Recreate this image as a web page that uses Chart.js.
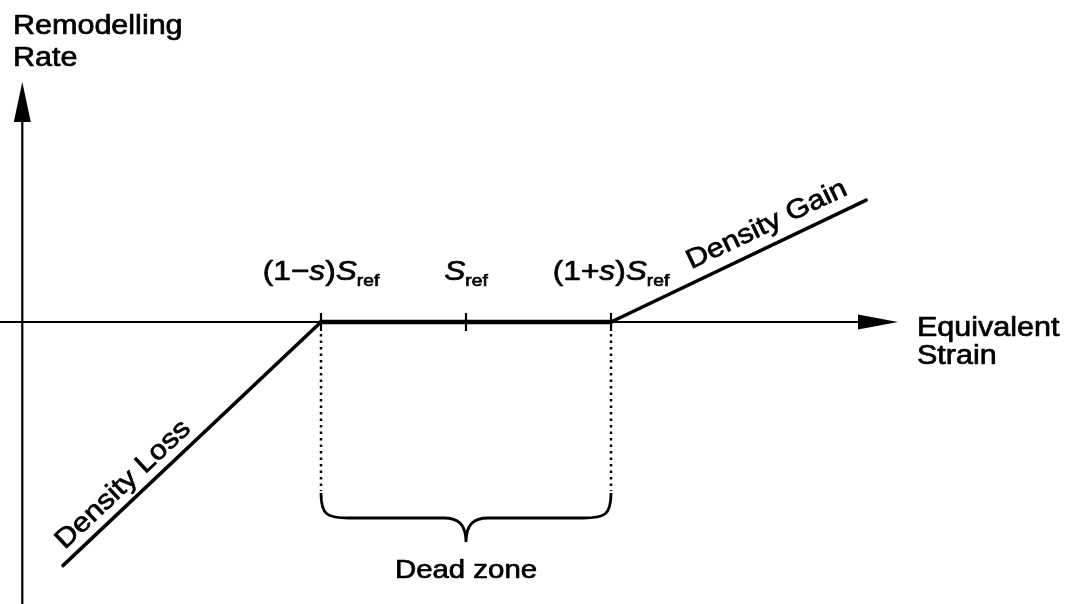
<!DOCTYPE html>
<html>
<head>
<meta charset="utf-8">
<script src="https://cdn.jsdelivr.net/npm/chart.js@4/dist/chart.umd.min.js"></script>
<style>
  html, body { margin: 0; padding: 0; background: #fff; }
  #wrap { width: 1065px; height: 604px; }
</style>
</head>
<body>
<div id="wrap"><canvas id="c" width="1065" height="604"></canvas></div>
<script>
// ---- data (strain in units of S_ref, s = 0.5) ----
const strain = [-0.39, 0.5, 1.5, 2.38];          // curve breakpoints
const rate   = [-0.84, 0, 0, 0.42];              // remodelling rate at breakpoints
const tickValues = [0.5, 1, 1.5];                // (1-s)Sref, Sref, (1+s)Sref
const tickLabels = ['(1−s)S_ref', 'S_ref', '(1+s)S_ref'];
const segmentLabels = ['Density Loss', 'Density Gain'];
const axisTitlesY = ['Remodelling', 'Rate'];
const axisTitlesX = ['Equivalent', 'Strain'];
const deadZoneLabel = 'Dead zone';
const yAxisAt = -0.53;                           // strain value where the rate axis sits

const FONT = '"Liberation Sans", Arial, Helvetica, sans-serif';
const SX = 1.13; // horizontal stretch of the lettering in the reference

function drawStretched(ctx, text, x, y, size, opts) {
  opts = opts || {};
  ctx.save();
  ctx.font = (opts.italic ? 'italic ' : '') + size + 'px ' + FONT;
  ctx.textBaseline = 'alphabetic';
  ctx.textAlign = 'left';
  const w = ctx.measureText(text).width * SX;
  let x0 = x;
  if (opts.align === 'center') x0 = x - w / 2;
  else if (opts.align === 'right') x0 = x - w;
  ctx.translate(x0, y);
  ctx.scale(SX, 1);
  ctx.fillStyle = '#000';
  ctx.strokeStyle = '#000';
  ctx.lineWidth = 0.7;
  ctx.lineJoin = 'round';
  ctx.fillText(text, 0, 0);
  ctx.strokeText(text, 0, 0);
  ctx.restore();
  return w;
}

// parse "(1−s)S_ref" into runs: italic s/S, subscript after "_"
function parseLabel(lbl) {
  const [main, sub] = lbl.split('_');
  const runs = [];
  for (const ch of main) {
    const it = (ch === 's' || ch === 'S');
    const last = runs[runs.length - 1];
    if (last && last.italic === it && !last.sub) last.t += ch;
    else runs.push({ t: ch, italic: it, sub: false });
  }
  if (sub) runs.push({ t: sub, italic: false, sub: true });
  return runs;
}

function measureRuns(ctx, runs, size, subSize) {
  let w = 0;
  for (const r of runs) {
    ctx.font = (r.italic ? 'italic ' : '') + (r.sub ? subSize : size) + 'px ' + FONT;
    w += ctx.measureText(r.t).width * SX;
  }
  return w;
}

function drawRuns(ctx, runs, cx, y, size, subSize) {
  const total = measureRuns(ctx, runs, size, subSize);
  let x = cx - total / 2;
  for (const r of runs) {
    x += drawStretched(ctx, r.t, x, r.sub ? y + 6 : y, r.sub ? subSize : size, { italic: r.italic });
  }
}

const diagramPlugin = {
  id: 'diagram',
  beforeDatasetsDraw(chart) {
    const ctx = chart.ctx;
    const xs = chart.scales.x, ys = chart.scales.y;
    const y0 = ys.getPixelForValue(0);
    const xAx = xs.getPixelForValue(yAxisAt);
    ctx.save();
    ctx.strokeStyle = '#000';
    ctx.fillStyle = '#000';
    ctx.lineWidth = 2.2;
    // horizontal axis
    const xTip = 898;
    ctx.beginPath();
    ctx.moveTo(0, y0);
    ctx.lineTo(xTip - 20, y0);
    ctx.stroke();
    ctx.beginPath();
    ctx.moveTo(xTip, y0);
    ctx.lineTo(xTip - 40, y0 - 7.5);
    ctx.lineTo(xTip - 40, y0 + 7.5);
    ctx.closePath();
    ctx.fill();
    // vertical axis
    const yTip = 82;
    ctx.beginPath();
    ctx.moveTo(xAx, chart.height);
    ctx.lineTo(xAx, yTip + 20);
    ctx.stroke();
    ctx.beginPath();
    ctx.moveTo(xAx, yTip);
    ctx.lineTo(xAx - 8.5, yTip + 40);
    ctx.lineTo(xAx + 8.5, yTip + 40);
    ctx.closePath();
    ctx.fill();
    // ticks
    ctx.lineWidth = 2.2;
    for (const v of tickValues) {
      const px = xs.getPixelForValue(v);
      ctx.beginPath();
      ctx.moveTo(px, y0 - 9);
      ctx.lineTo(px, y0 + 9);
      ctx.stroke();
    }
    // dotted dead-zone limits + brace
    const xL = xs.getPixelForValue(tickValues[0]);
    const xR = xs.getPixelForValue(tickValues[2]);
    const mid = (xL + xR) / 2;
    const yTop = 493, yBar = 518, yTipB = 542;
    ctx.setLineDash([2.5, 4]);
    ctx.lineWidth = 2.5;
    for (const px of [xL, xR]) {
      ctx.beginPath();
      ctx.moveTo(px, y0 + 12);
      ctx.lineTo(px, yTop - 2);
      ctx.stroke();
    }
    ctx.setLineDash([]);
    ctx.lineWidth = 2.8;
    ctx.beginPath();
    ctx.moveTo(xL, yTop);
    ctx.bezierCurveTo(xL, yBar - 3, xL + 6, yBar, xL + 28, yBar);
    ctx.lineTo(mid - 22, yBar);
    ctx.bezierCurveTo(mid - 8, yBar, mid, yBar + 6, mid, yTipB);
    ctx.bezierCurveTo(mid, yBar + 6, mid + 8, yBar, mid + 22, yBar);
    ctx.lineTo(xR - 28, yBar);
    ctx.bezierCurveTo(xR - 6, yBar, xR, yBar - 3, xR, yTop);
    ctx.stroke();
    ctx.restore();
  },
  afterDatasetsDraw(chart) {
    const ctx = chart.ctx;
    const xs = chart.scales.x, ys = chart.scales.y;
    const y0 = ys.getPixelForValue(0);
    const size = 26;
    // axis titles
    drawStretched(ctx, axisTitlesY[0], 13, 34, 27);
    drawStretched(ctx, axisTitlesY[1], 13, 66, 27);
    drawStretched(ctx, axisTitlesX[0], 917, 336, 27);
    drawStretched(ctx, axisTitlesX[1], 917, 364, 27);
    // tick labels
    tickValues.forEach((v, i) => {
      const px = xs.getPixelForValue(v);
      drawRuns(ctx, parseLabel(tickLabels[i]), px, y0 - 42, 28, 17);
    });
    // dead zone label
    const xL = xs.getPixelForValue(tickValues[0]);
    const xR = xs.getPixelForValue(tickValues[2]);
    drawStretched(ctx, deadZoneLabel, (xL + xR) / 2, 578, size, { align: 'center' });
    // rotated segment labels along the lines
    const segs = [[0, 1, 0.28, -10], [2, 3, 0.645, -13]];
    segs.forEach(([a, b, t, off], i) => {
      const x1 = xs.getPixelForValue(strain[a]), y1 = ys.getPixelForValue(rate[a]);
      const x2 = xs.getPixelForValue(strain[b]), y2 = ys.getPixelForValue(rate[b]);
      const ang = Math.atan2(y2 - y1, x2 - x1);
      const px = x1 + (x2 - x1) * t, py = y1 + (y2 - y1) * t;
      ctx.save();
      ctx.translate(px, py);
      ctx.rotate(ang);
      drawStretched(ctx, segmentLabels[i], 0, off, 27, { align: 'center' });
      ctx.restore();
    });
  }
};

new Chart(document.getElementById('c'), {
  type: 'scatter',
  data: {
    datasets: [{
      data: strain.map((x, i) => ({ x, y: rate[i] })),
      showLine: true,
      borderColor: '#000',
      borderWidth: 3.5,
      pointRadius: 0,
      tension: 0,
      borderCapStyle: 'round',
      segment: {
        borderWidth: c => (c.p0DataIndex === 1 ? 4.5 : 3.5)
      }
    }]
  },
  options: {
    responsive: false,
    animation: false,
    devicePixelRatio: 1,
    layout: { padding: 0 },
    plugins: { legend: { display: false }, tooltip: { enabled: false } },
    scales: {
      x: { type: 'linear', display: false, min: -0.6069, max: 3.0655 },
      y: { type: 'linear', display: false, min: -0.9724, max: 1.1103 }
    }
  },
  plugins: [diagramPlugin]
});
</script>
</body>
</html>
